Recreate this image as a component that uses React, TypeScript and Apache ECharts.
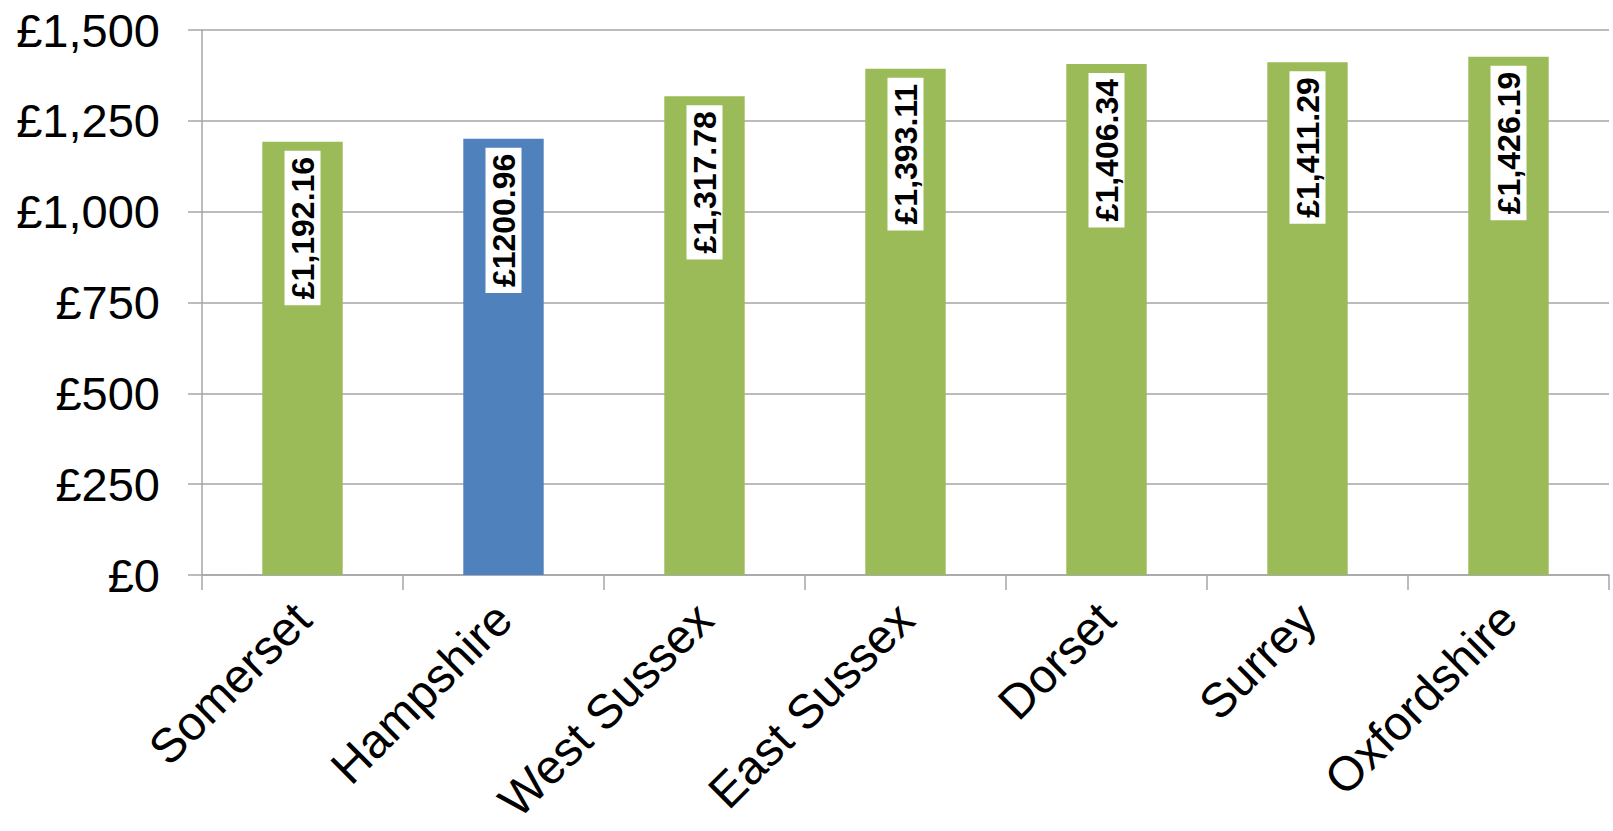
import React, { useEffect, useRef } from "react";
import * as echarts from "echarts";

const categories = ["Somerset", "Hampshire", "West Sussex", "East Sussex", "Dorset", "Surrey", "Oxfordshire"];
const values = [1192.16, 1200.96, 1317.78, 1393.11, 1406.34, 1411.29, 1426.19];
const valueLabels = ["£1,192.16", "£1200.96", "£1,317.78", "£1,393.11", "£1,406.34", "£1,411.29", "£1,426.19"];
const yTickValues = [0, 250, 500, 750, 1000, 1250, 1500];
const yTickLabels = ["£0", "£250", "£500", "£750", "£1,000", "£1,250", "£1,500"];
const highlighted = "Hampshire";

const GREEN = "#9BBB59";
const BLUE = "#4F81BD";
const GRID_GRAY = "#A6A6A6";

export default function App() {
  const ref = useRef<HTMLDivElement>(null);
  useEffect(() => {
    document.body.style.margin = "0";
    const chart = echarts.init(ref.current!, undefined, { renderer: "svg" });
    chart.setOption({
      animation: false,
      backgroundColor: "#ffffff",
      grid: { left: 202, right: 4, top: 30, bottom: 256, containLabel: false, outerBoundsMode: "none" },
      xAxis: {
        type: "category",
        data: categories,
        boundaryGap: true,
        axisLine: { show: true, lineStyle: { color: GRID_GRAY, width: 1.5 } },
        axisTick: { show: true, length: 15, alignWithLabel: false, lineStyle: { color: GRID_GRAY, width: 1.5 } },
        axisLabel: {
          rotate: 45,
          interval: 0,
          margin: 36,
          color: "#000",
          fontFamily: "Liberation Sans",
          fontSize: 48,
        },
      },
      yAxis: {
        type: "value",
        min: 0,
        max: 1500,
        interval: 250,
        axisLine: { show: true, lineStyle: { color: GRID_GRAY, width: 1.5 } },
        axisTick: { show: true, length: 14, lineStyle: { color: GRID_GRAY, width: 1.5 } },
        splitLine: { show: true, lineStyle: { color: GRID_GRAY, width: 1.5 } },
        axisLabel: {
          margin: 42,
          color: "#000",
          fontFamily: "Liberation Sans",
          fontSize: 47,
          formatter: (v: number) => {
            const i = yTickValues.indexOf(v);
            return i >= 0 ? yTickLabels[i] : "";
          },
        },
      },
      series: [
        {
          type: "bar",
          barWidth: "40%",
          data: values.map((v, i) => ({
            value: v,
            itemStyle: { color: categories[i] === highlighted ? BLUE : GREEN },
          })),
          label: {
            show: true,
            position: "insideTop",
            distance: 9,
            rotate: 90,
            align: "right",
            verticalAlign: "middle",
            formatter: (p: any) => valueLabels[p.dataIndex],
            color: "#000",
            fontFamily: "Liberation Sans",
            fontWeight: "bold",
            fontSize: 32,
            lineHeight: 30,
            backgroundColor: "#ffffff",
            padding: [3, 6, 3, 6],
          },
        },
      ],
    });
    return () => chart.dispose();
  }, []);
  return <div ref={ref} style={{ width: 1613, height: 831 }} />;
}
